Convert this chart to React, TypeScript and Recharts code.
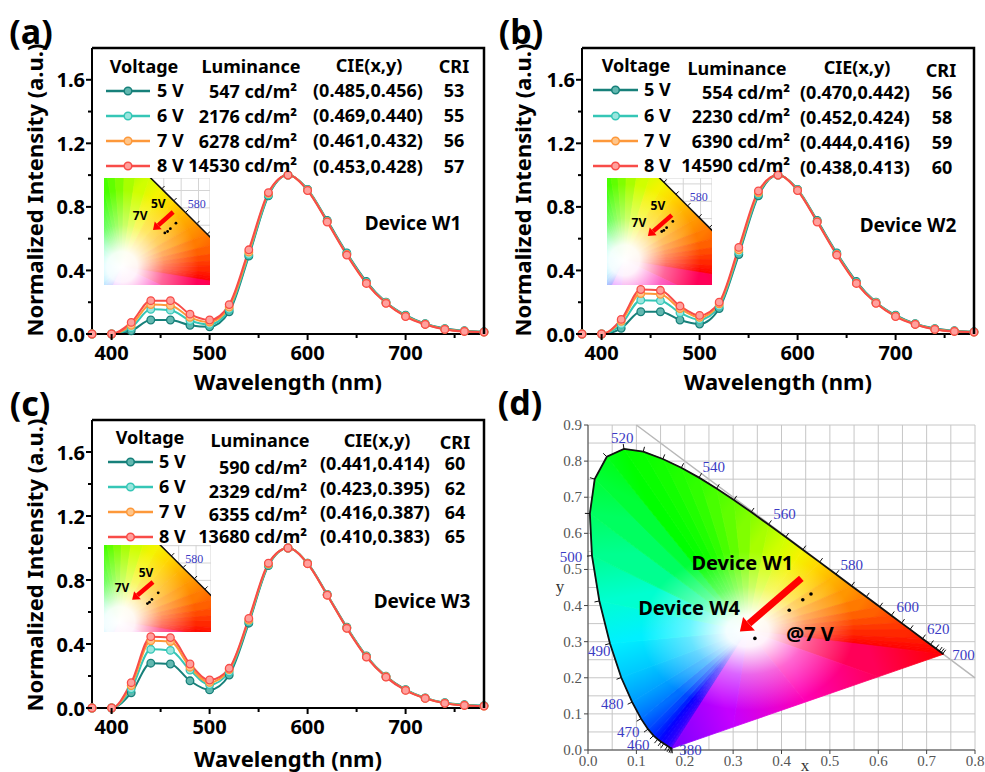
import React from 'react';
import {
  LineChart, Line, XAxis, YAxis, ReferenceLine,
  ScatterChart, Scatter, CartesianGrid,
} from 'recharts';

const SANS = '"Noto Sans", "Open Sans", "DejaVu Sans", sans-serif';
const SERIF = '"Liberation Serif", "DejaVu Serif", serif';

// ---------- spectra (normalized EL) ----------
const wavelengths = [380, 400, 420, 440, 460, 480, 500, 520, 540, 560, 580, 600, 620, 640, 660, 680, 700, 720, 740, 760, 780];

const w1At5V = [0, 0, 0.02, 0.088, 0.088, 0.055, 0.045, 0.14, 0.49, 0.87, 1.0, 0.91, 0.715, 0.51, 0.33, 0.2, 0.118, 0.065, 0.034, 0.02, 0.014];
const w1At6V = [0, 0, 0.04, 0.155, 0.15, 0.085, 0.06, 0.155, 0.5, 0.875, 1.0, 0.908, 0.71, 0.505, 0.325, 0.198, 0.115, 0.063, 0.032, 0.018, 0.013];
const w1At7V = [0, 0, 0.055, 0.185, 0.18, 0.105, 0.075, 0.17, 0.515, 0.885, 1.0, 0.905, 0.707, 0.5, 0.32, 0.195, 0.112, 0.061, 0.03, 0.017, 0.012];
const w1At8V = [0, 0, 0.073, 0.21, 0.21, 0.125, 0.088, 0.185, 0.53, 0.89, 1.0, 0.903, 0.705, 0.497, 0.318, 0.193, 0.11, 0.06, 0.029, 0.016, 0.012];

const w2At5V = [0, 0, 0.036, 0.14, 0.14, 0.088, 0.063, 0.16, 0.5, 0.87, 1.0, 0.91, 0.715, 0.51, 0.33, 0.2, 0.118, 0.065, 0.034, 0.02, 0.014];
const w2At6V = [0, 0, 0.06, 0.213, 0.21, 0.134, 0.09, 0.175, 0.515, 0.88, 1.0, 0.908, 0.71, 0.505, 0.325, 0.198, 0.115, 0.063, 0.032, 0.018, 0.013];
const w2At7V = [0, 0, 0.08, 0.255, 0.25, 0.16, 0.105, 0.19, 0.53, 0.89, 1.0, 0.905, 0.707, 0.5, 0.32, 0.195, 0.112, 0.061, 0.03, 0.017, 0.012];
const w2At8V = [0, 0, 0.092, 0.28, 0.275, 0.176, 0.117, 0.2, 0.545, 0.9, 1.0, 0.903, 0.705, 0.497, 0.318, 0.193, 0.11, 0.06, 0.029, 0.016, 0.012];

const w3At5V = [0, 0, 0.095, 0.28, 0.275, 0.17, 0.113, 0.206, 0.53, 0.89, 1.0, 0.905, 0.71, 0.505, 0.325, 0.198, 0.115, 0.063, 0.033, 0.02, 0.015];
const w3At6V = [0, 0, 0.12, 0.367, 0.36, 0.237, 0.145, 0.225, 0.54, 0.895, 1.0, 0.905, 0.708, 0.502, 0.322, 0.196, 0.113, 0.062, 0.031, 0.018, 0.013];
const w3At7V = [0, 0, 0.14, 0.42, 0.415, 0.255, 0.16, 0.24, 0.55, 0.9, 1.0, 0.903, 0.706, 0.5, 0.32, 0.195, 0.112, 0.061, 0.03, 0.017, 0.012];
const w3At8V = [0, 0, 0.158, 0.446, 0.44, 0.275, 0.175, 0.248, 0.56, 0.905, 1.0, 0.902, 0.705, 0.498, 0.318, 0.193, 0.11, 0.06, 0.029, 0.016, 0.012];

const voltages = ['5 V', '6 V', '7 V', '8 V'];
const seriesKeys = ['v5', 'v6', 'v7', 'v8'];
const seriesColor = ['#17807a', '#35c6b6', '#fd983a', '#f84c48'];
const seriesFill = ['#62b8b0', '#9ae6de', '#ffc58a', '#ffa09c'];

const specXTicks = [400, 450, 500, 550, 600, 650, 700, 750];
const specYTicks = [0, 0.2, 0.4, 0.6, 0.8, 1.0, 1.2, 1.4, 1.6];

// legend tables
const w1Luminance = [547, 2176, 6278, 14530];
const w1CieX = [0.485, 0.469, 0.461, 0.453];
const w1CieY = [0.456, 0.440, 0.432, 0.428];
const w1Cri = [53, 55, 56, 57];

const w2Luminance = [554, 2230, 6390, 14590];
const w2CieX = [0.470, 0.452, 0.444, 0.438];
const w2CieY = [0.442, 0.424, 0.416, 0.413];
const w2Cri = [56, 58, 59, 60];

const w3Luminance = [590, 2329, 6355, 13680];
const w3CieX = [0.441, 0.423, 0.416, 0.410];
const w3CieY = [0.414, 0.395, 0.387, 0.383];
const w3Cri = [60, 62, 64, 65];

// ---------- CIE 1931 chromaticity diagram ----------
const locusNm = [380, 400, 410, 420, 430, 440, 450, 455, 460, 465, 470, 475, 480, 485, 490, 495, 500, 505, 510, 515, 520, 525, 530, 535, 540, 545, 550, 555, 560, 565, 570, 575, 580, 585, 590, 595, 600, 605, 610, 620, 630, 640, 650, 660, 680, 700];
const locusX = [0.1741, 0.1733, 0.1726, 0.1714, 0.1689, 0.1644, 0.1566, 0.1510, 0.1440, 0.1355, 0.1241, 0.1096, 0.0913, 0.0687, 0.0454, 0.0235, 0.0082, 0.0039, 0.0139, 0.0389, 0.0743, 0.1142, 0.1547, 0.1929, 0.2296, 0.2658, 0.3016, 0.3373, 0.3731, 0.4087, 0.4441, 0.4788, 0.5125, 0.5448, 0.5752, 0.6029, 0.6270, 0.6482, 0.6658, 0.6915, 0.7079, 0.7190, 0.7260, 0.7300, 0.7334, 0.7347];
const locusY = [0.0050, 0.0048, 0.0048, 0.0051, 0.0069, 0.0109, 0.0177, 0.0227, 0.0297, 0.0399, 0.0578, 0.0868, 0.1327, 0.2007, 0.2950, 0.4127, 0.5384, 0.6548, 0.7502, 0.8120, 0.8338, 0.8262, 0.8059, 0.7816, 0.7543, 0.7243, 0.6923, 0.6589, 0.6245, 0.5896, 0.5547, 0.5202, 0.4866, 0.4544, 0.4242, 0.3965, 0.3725, 0.3514, 0.3340, 0.3083, 0.2920, 0.2809, 0.2740, 0.2700, 0.2666, 0.2653];
const locusHue = [
  '#7a00ff', '#6a00ff', '#5a00ff', '#4a00ff', '#3800ff', '#2600ff', '#1400ff', '#0800ff', '#0010ff', '#0028ff',
  '#0048ff', '#0070ff', '#009cff', '#00c8ff', '#00f0ff', '#00ffd0', '#00ff90', '#00ff60', '#00ff38', '#00ff18',
  '#00ff00', '#08ff00', '#12ff00', '#20ff00', '#30ff00', '#48ff00', '#60ff00', '#80ff00', '#a8ff00', '#d0ff00',
  '#f4f400', '#ffd800', '#ffb400', '#ff9600', '#ff7a00', '#ff6000', '#ff4a00', '#ff3800', '#ff2800', '#ff1800',
  '#ff0c00', '#ff0600', '#ff0200', '#ff0000', '#ff0000', '#ff0000',
];
// points on the line of purples, from the red end back towards 380 nm
const purpleX = [0.6, 0.45, 0.3];
const purpleY = [0.2027, 0.1331, 0.0635];
const purpleHue = ['#ff0058', '#ff00b4', '#c400ff'];
const whitePoint = { x: 0.33, y: 0.33 };

const nmLabels = ['520', '540', '560', '580', '600', '620', '700', '500', '490', '480', '470', '460', '380'];
const nmLabelX = [0.071, 0.26, 0.406, 0.545, 0.661, 0.724, 0.776, 0.0, 0.023, 0.05, 0.083, 0.104, 0.212];
const nmLabelY = [0.865, 0.783, 0.653, 0.512, 0.397, 0.335, 0.264, 0.535, 0.275, 0.127, 0.051, 0.014, 0.0];
const nmLabelShift = [0, 0, 0, 0, 0, 0, 0, -17, 0, 0, 0, 0, 0];

const cieGridX = [0, 0.05, 0.1, 0.15, 0.2, 0.25, 0.3, 0.35, 0.4, 0.45, 0.5, 0.55, 0.6, 0.65, 0.7, 0.75, 0.8];
const cieGridY = [0, 0.05, 0.1, 0.15, 0.2, 0.25, 0.3, 0.35, 0.4, 0.45, 0.5, 0.55, 0.6, 0.65, 0.7, 0.75, 0.8, 0.85, 0.9];
const insetGrid = [0.3, 0.35, 0.4, 0.45, 0.5, 0.55];

const devicesAt7V = ['W1', 'W2', 'W3', 'W4'];
const cieAt7VX = [0.461, 0.444, 0.416, 0.345];
const cieAt7VY = [0.432, 0.416, 0.387, 0.309];

const gamutData = [
  ...locusNm.map((nm, i) => ({ x: locusX[i], y: locusY[i], nm })),
  ...purpleX.map((x, i) => ({ x, y: purpleY[i] })),
  whitePoint,
];
const gamutHue = [...locusHue, ...purpleHue];
const nmLabelData = nmLabels.map((text, i) => ({ x: nmLabelX[i], y: nmLabelY[i], text, dx: nmLabelShift[i] }));

// ---------- pieces ----------
function Txt({ x, y, children, size = 18, anchor = 'middle', rotate = false, family = SANS, weight = 700, color = '#000' }: any) {
  const tx = anchor === 'start' ? '0' : anchor === 'end' ? '-100%' : '-50%';
  return (
    <div
      style={{
        position: 'absolute', left: x, top: y,
        transform: `translate(${tx},-50%)${rotate ? ' rotate(-90deg)' : ''}`,
        fontSize: size, fontFamily: family, fontWeight: weight, color,
        lineHeight: 1.2, whiteSpace: 'nowrap',
      }}
    >
      {children}
    </div>
  );
}

function Swatch({ x, y, w, color, fill }: any) {
  return (
    <svg style={{ position: 'absolute', left: x, top: y - 6 }} width={w} height={12}>
      <line x1={0} y1={6} x2={w} y2={6} stroke={color} strokeWidth={2.5} />
      <circle cx={w / 2} cy={6} r={3.8} fill={fill} stroke={color} strokeWidth={1.5} />
    </svg>
  );
}

function LegendTable({ cfg, lum, cx, cy, cri }: any) {
  const heads = ['Voltage', 'Luminance', 'CIE(x,y)', 'CRI'];
  return (
    <>
      {heads.map((h, i) => (
        <Txt key={h} x={cfg.head[i][0]} y={cfg.head[i][1]}>{h}</Txt>
      ))}
      {voltages.map((v, i) => (
        <React.Fragment key={v}>
          <Swatch x={cfg.symX} y={cfg.vY[i]} w={cfg.symW} color={seriesColor[i]} fill={seriesFill[i]} />
          <Txt x={cfg.vX} y={cfg.vY[i]} anchor="start">{v}</Txt>
          <Txt x={cfg.lumR} y={cfg.lumY[i]} anchor="end">{lum[i]} cd/m²</Txt>
          <Txt x={cfg.cieL} y={cfg.cieY[i]} anchor="start">({cx[i].toFixed(3)},{cy[i].toFixed(3)})</Txt>
          <Txt x={cfg.criC} y={cfg.cieY[i]}>{cri[i]}</Txt>
        </React.Fragment>
      ))}
    </>
  );
}

function SpecXTick({ x, y, payload }: any) {
  const major = payload.value % 100 === 0;
  return (
    <g>
      <line x1={x} y1={y} x2={x} y2={y + (major ? 6 : 4)} stroke="#000" strokeWidth={2} />
      {major && (
        <text x={x} y={y + 18} textAnchor="middle" dominantBaseline="central" fontFamily={SANS} fontWeight={700} fontSize={20} fill="#000">
          {payload.value}
        </text>
      )}
    </g>
  );
}

function SpecYTick({ x, y, payload }: any) {
  const major = Math.round(payload.value * 10) % 4 === 0;
  return (
    <g>
      <line x1={x - (major ? 6 : 4)} y1={y} x2={x} y2={y} stroke="#000" strokeWidth={2} />
      {major && (
        <text x={x - 7} y={y} textAnchor="end" dominantBaseline="central" fontFamily={SANS} fontWeight={700} fontSize={20} fill="#000">
          {payload.value.toFixed(1)}
        </text>
      )}
    </g>
  );
}

const isTenth = (v: number) => Math.abs(v * 10 - Math.round(v * 10)) < 1e-6;

function CieXTick({ x, y, payload }: any) {
  if (!isTenth(payload.value)) return <g />;
  return (
    <g>
      <line x1={x} y1={y} x2={x} y2={y + 4} stroke="#444" />
      <text x={x} y={y + 11} textAnchor="middle" dominantBaseline="central" fontFamily={SERIF} fontSize={15} fill="#555">
        {payload.value.toFixed(1)}
      </text>
    </g>
  );
}

function CieYTick({ x, y, payload }: any) {
  if (!isTenth(payload.value)) return <g />;
  return (
    <g>
      <line x1={x - 4} y1={y} x2={x} y2={y} stroke="#444" />
      <text x={x - 6} y={y} textAnchor="end" dominantBaseline="central" fontFamily={SERIF} fontSize={15} fill="#555">
        {payload.value.toFixed(1)}
      </text>
    </g>
  );
}

// colour-filled horseshoe drawn from the scaled locus points
function Gamut({ points, id, inset }: any) {
  if (!points || points.length < 5) return null;
  const c = points[points.length - 1];
  const poly = points.slice(0, -1);
  const n = poly.length;
  const last = locusNm.length - 1;
  const top = locusNm.indexOf(520);
  const sx = (poly[last].x - poly[0].x) / (locusX[last] - locusX[0]);
  const sy = (poly[0].y - poly[top].y) / (locusY[top] - locusY[0]);
  const k = sy / sx;
  const r = 0.22 * sx;
  const polyPath = poly.map((p: any, i: number) => `${i ? 'L' : 'M'}${p.x},${p.y}`).join('') + 'Z';
  const locusPath = poly.slice(0, last + 1).map((p: any, i: number) => `${i ? 'L' : 'M'}${p.x},${p.y}`).join('');
  const ticks: any[] = [];
  for (let i = 1; i < last; i++) {
    const p = poly[i];
    const a = poly[i - 1];
    const b = poly[i + 1];
    const tx = b.x - a.x;
    const ty = b.y - a.y;
    const len = Math.hypot(tx, ty);
    if (len < 0.5) continue;
    let nx = ty / len;
    let ny = -tx / len;
    if ((p.x - c.x) * nx + (p.y - c.y) * ny < 0) { nx = -nx; ny = -ny; }
    const L = inset ? 4 : 5;
    ticks.push(<line key={i} x1={p.x} y1={p.y} x2={p.x + nx * L} y2={p.y + ny * L} stroke="#111" strokeWidth={1} />);
  }
  return (
    <g>
      <defs>
        {poly.map((a: any, i: number) => {
          const b = poly[(i + 1) % n];
          return (
            <linearGradient key={i} id={`${id}-g${i}`} gradientUnits="userSpaceOnUse" x1={a.x} y1={a.y} x2={b.x} y2={b.y}>
              <stop offset="0" stopColor={gamutHue[i]} />
              <stop offset="1" stopColor={gamutHue[(i + 1) % n]} />
            </linearGradient>
          );
        })}
        <radialGradient id={`${id}-w`} gradientUnits="userSpaceOnUse" cx={c.x} cy={c.y} r={r}
          gradientTransform={`matrix(1 0 0 ${k} 0 ${c.y * (1 - k)})`}>
          <stop offset="0" stopColor="#fff" stopOpacity={1} />
          <stop offset="0.2" stopColor="#fff" stopOpacity={0.95} />
          <stop offset="0.55" stopColor="#fff" stopOpacity={0.4} />
          <stop offset="1" stopColor="#fff" stopOpacity={0} />
        </radialGradient>
      </defs>
      {poly.map((a: any, i: number) => {
        const b = poly[(i + 1) % n];
        return (
          <path key={i} d={`M${c.x},${c.y}L${a.x},${a.y}L${b.x},${b.y}Z`}
            fill={`url(#${id}-g${i})`} stroke={`url(#${id}-g${i})`} strokeWidth={0.8} strokeLinejoin="round" />
        );
      })}
      <path d={polyPath} fill={`url(#${id}-w)`} />
      <path d={locusPath} fill="none" stroke="#111" strokeWidth={inset ? 1.5 : 1.8} />
      {ticks}
    </g>
  );
}

function Arrow({ points, shaft, head }: any) {
  if (!points || points.length < 2) return null;
  const [s, e] = points;
  const dx = e.x - s.x;
  const dy = e.y - s.y;
  const L = Math.hypot(dx, dy) || 1;
  const ux = dx / L;
  const uy = dy / L;
  const bx = e.x - ux * head;
  const by = e.y - uy * head;
  const hw = head * 0.75;
  return (
    <g>
      <line x1={s.x} y1={s.y} x2={bx} y2={by} stroke="#ff0000" strokeWidth={shaft} />
      <path d={`M${e.x},${e.y}L${bx - uy * hw},${by + ux * hw}L${bx + uy * hw},${by - ux * hw}Z`} fill="#ff0000" />
    </g>
  );
}

function CieChart({ id, width, height, margin, xDomain, yDomain, xTicks, yTicks, inset, dots, arrow, notes, noteSize }: any) {
  return (
    <ScatterChart width={width} height={height} margin={margin} style={{ background: '#fff' }}>
      <CartesianGrid stroke={inset ? '#d4d4d4' : '#c6c6c6'} strokeWidth={1} />
      <XAxis type="number" dataKey="x" domain={xDomain} ticks={xTicks} interval={0} hide={inset}
        allowDataOverflow={inset} tickLine={false} tickSize={0} tickMargin={0}
        tick={(t: any) => <CieXTick {...t} />} axisLine={{ stroke: '#444' }} height={inset ? 0 : 22} />
      <YAxis type="number" dataKey="y" domain={yDomain} ticks={yTicks} interval={0} hide={inset}
        allowDataOverflow={inset} tickLine={false} tickSize={0} tickMargin={0}
        tick={(t: any) => <CieYTick {...t} />} axisLine={{ stroke: '#444' }} width={inset ? 0 : 98} />
      {!inset && (
        <ReferenceLine segment={[{ x: 0.1, y: 0.9 }, { x: 0.8, y: 0.2 }]} stroke="#b8b8b8" strokeWidth={1.5} />
      )}
      <Scatter data={gamutData} isAnimationActive={false} shape={() => <g />}
        line={(p: any) => <Gamut points={p.points} id={id} inset={inset} />} />
      <Scatter data={nmLabelData} isAnimationActive={false}
        shape={(p: any) => (
          <text x={p.cx + p.payload.dx * (inset ? 0 : 1)} y={p.cy} textAnchor="middle" dominantBaseline="central"
            fontFamily={SERIF} fontSize={inset ? 12 : 15} fill="#3b3bc4">{p.payload.text}</text>
        )} />
      <Scatter data={dots} isAnimationActive={false}
        shape={(p: any) => <circle cx={p.cx} cy={p.cy} r={inset ? 1.4 : 1.8} fill="#000" />} />
      <Scatter data={arrow} isAnimationActive={false} shape={() => <g />}
        line={(p: any) => <Arrow points={p.points} shaft={inset ? 4.5 : 7} head={inset ? 7 : 12} />} />
      <Scatter data={notes} isAnimationActive={false}
        shape={(p: any) => (
          <text x={p.cx} y={p.cy} textAnchor="middle" dominantBaseline="central" fontFamily={SANS}
            fontWeight={700} fontSize={noteSize} fill="#000">{p.payload.text}</text>
        )} />
    </ScatterChart>
  );
}

const PLOT_LEFT = 92;
const PLOT_RIGHT_MARGIN = 6;

function Spectra({ p, series }: any) {
  const rows = wavelengths.map((wl, i) => ({ wl, v5: series[0][i], v6: series[1][i], v7: series[2][i], v8: series[3][i] }));
  const axis = { stroke: '#000', strokeWidth: 2 };
  return (
    <div style={{ position: 'absolute', left: p.left, top: p.top }}>
      <LineChart width={p.width} height={p.height} data={rows}
        margin={{ top: p.plotTop, right: PLOT_RIGHT_MARGIN, bottom: 0, left: 0 }}>
        <XAxis dataKey="wl" type="number" domain={[380, 780]} ticks={specXTicks} interval={0}
          tickLine={false} tickSize={0} tickMargin={0} tick={(t: any) => <SpecXTick {...t} />}
          axisLine={axis} height={p.xAxisHeight} />
        <YAxis type="number" domain={[0, 1.8]} ticks={specYTicks} interval={0}
          tickLine={false} tickSize={0} tickMargin={0} tick={(t: any) => <SpecYTick {...t} />}
          axisLine={axis} width={PLOT_LEFT} />
        {voltages.map((v, i) => (
          <Line key={v} dataKey={seriesKeys[i]} type="monotone" stroke={seriesColor[i]} strokeWidth={2}
            dot={{ r: 3.8, fill: seriesFill[i], stroke: seriesColor[i], strokeWidth: 1.3 }}
            activeDot={false} isAnimationActive={false} />
        ))}
      </LineChart>
    </div>
  );
}

// top and right edges of each spectrum plot box, drawn above everything
function PlotFrames({ panels }: any) {
  return (
    <svg width={985} height={772} style={{ position: 'absolute', left: 0, top: 0, zIndex: 10, pointerEvents: 'none' }}>
      {panels.map((p: any, i: number) => {
        const x0 = p.left + PLOT_LEFT;
        const x1 = p.left + p.width - PLOT_RIGHT_MARGIN;
        const y0 = p.top + p.plotTop;
        const y1 = p.top + p.height - p.xAxisHeight;
        return (
          <path key={i} d={`M${x0},${y0}L${x1},${y0}L${x1},${y1}`} fill="none" stroke="#000" strokeWidth={2.5} />
        );
      })}
    </svg>
  );
}

function Inset({ cfg, cx, cy }: any) {
  const dots = cx.map((x: number, i: number) => ({ x, y: cy[i] }));
  return (
    <div style={{ position: 'absolute', left: cfg.left, top: cfg.top }}>
      <CieChart id={cfg.id} width={cfg.w} height={cfg.h} margin={{ top: 0, right: 0, bottom: 0, left: 0 }}
        xDomain={cfg.xDomain} yDomain={cfg.yDomain} xTicks={insetGrid} yTicks={insetGrid} inset
        dots={dots} arrow={cfg.arrow} notes={cfg.notes} noteSize={12} />
    </div>
  );
}

// ---------- layout ----------
const panelA = { left: 0, top: 0, width: 490, height: 380, plotTop: 48, xAxisHeight: 46 };
const panelB = { left: 490, top: 0, width: 490, height: 380, plotTop: 48, xAxisHeight: 46 };
const panelC = { left: 0, top: 380, width: 490, height: 392, plotTop: 40, xAxisHeight: 64 };

const legendA = { head: [[144, 67], [251, 67], [369, 66], [454, 67]], symX: 106, symW: 44, vX: 157, vY: [91, 116, 141, 166], lumR: 297, lumY: [92, 117, 142, 166], cieL: 313, cieY: [91, 116, 141, 167], criC: 454 };
const legendB = { head: [[636, 66], [737, 69], [857, 68], [941, 71]], symX: 593, symW: 45, vX: 644, vY: [90, 116, 141, 166], lumR: 790, lumY: [93, 117, 142, 166], cieL: 800, cieY: [93, 118, 143, 168], criC: 942 };
const legendC = { head: [[150, 438], [260, 441], [377, 441], [455, 443]], symX: 108, symW: 45, vX: 159, vY: [462, 487, 512, 537], lumR: 307, lumY: [468, 492, 515, 537], cieL: 320, cieY: [464, 489, 513, 537], criC: 455 };

const insetA = {
  id: 'insA', left: 104, top: 178, w: 106, h: 107, xDomain: [0.278, 0.583], yDomain: [0.278, 0.586],
  arrow: [{ x: 0.477, y: 0.488 }, { x: 0.419, y: 0.436 }],
  notes: [{ x: 0.434, y: 0.514, text: '5V' }, { x: 0.382, y: 0.479, text: '7V' }],
};
const insetB = {
  id: 'insB', left: 607, top: 178, w: 105, h: 107, xDomain: [0.28, 0.583], yDomain: [0.259, 0.567],
  arrow: [{ x: 0.467, y: 0.46 }, { x: 0.398, y: 0.4 }],
  notes: [{ x: 0.427, y: 0.489, text: '5V' }, { x: 0.372, y: 0.44, text: '7V' }],
};
const insetC = {
  id: 'insC', left: 104, top: 545, w: 107, h: 87, xDomain: [0.285, 0.593], yDomain: [0.301, 0.552],
  arrow: [{ x: 0.426, y: 0.445 }, { x: 0.366, y: 0.394 }],
  notes: [{ x: 0.406, y: 0.474, text: '5V' }, { x: 0.337, y: 0.428, text: '7V' }],
};

const mainDots = devicesAt7V.map((d, i) => ({ x: cieAt7VX[i], y: cieAt7VY[i], d }));
const mainArrow = [{ x: 0.441, y: 0.475 }, { x: 0.314, y: 0.328 }];
const mainNotes = [
  { x: 0.319, y: 0.519, text: 'Device W1' },
  { x: 0.209, y: 0.394, text: 'Device W4' },
  { x: 0.459, y: 0.323, text: '@7 V' },
];

export default function App() {
  return (
    <div style={{ position: 'relative', width: 985, height: 772, background: '#fff', overflow: 'hidden', fontFamily: SANS }}>
      <style>{'body{margin:0;}'}</style>

      <Spectra p={panelA} series={[w1At5V, w1At6V, w1At7V, w1At8V]} />
      <Spectra p={panelB} series={[w2At5V, w2At6V, w2At7V, w2At8V]} />
      <Spectra p={panelC} series={[w3At5V, w3At6V, w3At7V, w3At8V]} />

      <Inset cfg={insetA} cx={w1CieX} cy={w1CieY} />
      <Inset cfg={insetB} cx={w2CieX} cy={w2CieY} />
      <Inset cfg={insetC} cx={w3CieX} cy={w3CieY} />

      <div style={{ position: 'absolute', left: 490, top: 380 }}>
        <CieChart id="cieD" width={495} height={392} margin={{ top: 45, right: 10, bottom: 0, left: 0 }}
          xDomain={[0, 0.8]} yDomain={[0, 0.9]} xTicks={cieGridX} yTicks={cieGridY} inset={false}
          dots={mainDots} arrow={mainArrow} notes={mainNotes} noteSize={20} />
      </div>

      <PlotFrames panels={[panelA, panelB, panelC]} />

      <LegendTable cfg={legendA} lum={w1Luminance} cx={w1CieX} cy={w1CieY} cri={w1Cri} />
      <LegendTable cfg={legendB} lum={w2Luminance} cx={w2CieX} cy={w2CieY} cri={w2Cri} />
      <LegendTable cfg={legendC} lum={w3Luminance} cx={w3CieX} cy={w3CieY} cri={w3Cri} />

      <Txt x={413} y={223} size={19}>Device W1</Txt>
      <Txt x={908} y={225} size={19}>Device W2</Txt>
      <Txt x={422} y={601} size={19}>Device W3</Txt>

      <Txt x={288} y={381} size={22}>Wavelength (nm)</Txt>
      <Txt x={778} y={381} size={22}>Wavelength (nm)</Txt>
      <Txt x={288} y={758} size={22}>Wavelength (nm)</Txt>
      <Txt x={34} y={190} size={22} rotate>Normalized  Intensity (a.u.)</Txt>
      <Txt x={522} y={190} size={22} rotate>Normalized  Intensity (a.u.)</Txt>
      <Txt x={34} y={565} size={22} rotate>Normalized Intensity (a.u.)</Txt>

      <Txt x={31} y={31} size={34}>(a)</Txt>
      <Txt x={521} y={31} size={34}>(b)</Txt>
      <Txt x={30} y={403} size={34}>(c)</Txt>
      <Txt x={520} y={402} size={34}>(d)</Txt>

      <Txt x={560} y={587} size={17} family={SERIF} weight={400} color="#333">y</Txt>
      <Txt x={805} y={766} size={17} family={SERIF} weight={400} color="#333">x</Txt>
    </div>
  );
}
